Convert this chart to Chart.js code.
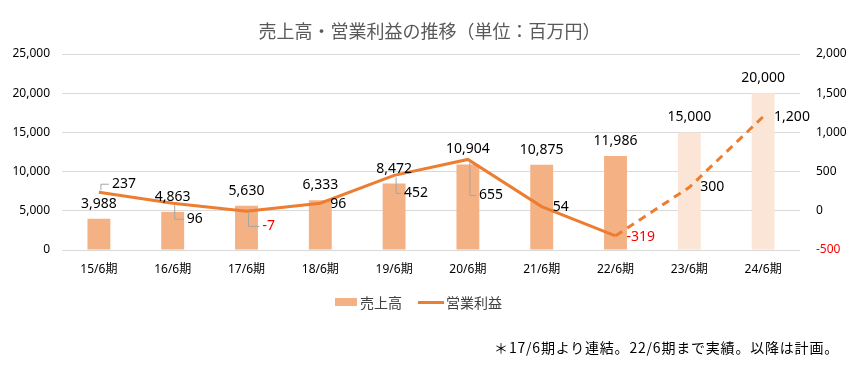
<!DOCTYPE html>
<html lang="ja">
<head>
<meta charset="utf-8">
<script src="https://cdn.jsdelivr.net/npm/chart.js@4/dist/chart.umd.min.js"></script>
<style>
  html, body { margin: 0; padding: 0; background: #fff; }
  #wrap { position: relative; width: 859px; height: 370px; font-family: "Noto Sans CJK JP", "Noto Sans", sans-serif; }
  #c { position: absolute; left: 0; top: 0; }
  .title { position: absolute; left: 0; width: 859px; top: 17px; text-align: center; font-size: 18px; color: #595959; line-height: 26px; }
  .legend { position: absolute; top: 292px; left: 335px; font-size: 14px; color: #404040; display: flex; align-items: center; line-height: 20px; }
  .legend .sw { display: inline-block; width: 22px; height: 8px; background: #F4B183; margin-right: 3px; }
  .legend .ln { display: inline-block; width: 26px; height: 3px; background: #ED7D31; margin: 0 2px 0 16px; }
  .note { position: absolute; right: 20px; top: 337px; font-size: 14px; letter-spacing: 0.8px; color: #000; line-height: 20px; }
</style>
</head>
<body>
<div id="wrap">
  <canvas id="c" width="859" height="370"></canvas>
  <div class="title">売上高・営業利益の推移（単位：百万円）</div>
  <div class="legend"><span class="sw"></span>売上高<span class="ln"></span>営業利益</div>
  <div class="note">＊17/6期より連結。22/6期まで実績。以降は計画。</div>
</div>
<script>
// --- data ---
const periods = ['15/6期', '16/6期', '17/6期', '18/6期', '19/6期', '20/6期', '21/6期', '22/6期', '23/6期', '24/6期'];
const sales = [3988, 4863, 5630, 6333, 8472, 10904, 10875, 11986, 15000, 20000];
const opProfit = [237, 96, -7, 96, 452, 655, 54, -319, 300, 1200];
const actualCount = 8; // through 22/6期, rest is plan
const salesTicks = [0, 5000, 10000, 15000, 20000, 25000];
const profitTicks = [-500, 0, 500, 1000, 1500, 2000];

// label placement for profit values: [dx, dy, leader]
const profitLabelPos = [
  [13, -8, 'up'], [14, 16, 'down'], [16, 15, 'down'], [10, 1, null], [10, 18, 'down'],
  [11, 36, 'down'], [11, 0, null], [11, 1, null], [11, 0, null], [11, 0, null],
];

const fmt = v => v.toLocaleString('en-US');
const FONT = '"Noto Sans", "Noto Sans CJK JP", sans-serif';

const labelPlugin = {
  id: 'valueLabels',
  afterDatasetsDraw(chart) {
    const ctx = chart.ctx;
    ctx.save();
    ctx.font = '14px ' + FONT;
    ctx.textBaseline = 'middle';
    // bar labels
    chart.getDatasetMeta(0).data.forEach((bar, i) => {
      ctx.fillStyle = '#000';
      ctx.textAlign = 'center';
      ctx.fillText(fmt(sales[i]), bar.x, bar.y - 15);
    });
    // line labels
    chart.getDatasetMeta(1).data.forEach((pt, i) => {
      const [dx, dy, leader] = profitLabelPos[i];
      const tx = pt.x + dx, ty = pt.y + dy;
      if (leader) {
        ctx.strokeStyle = '#A6A6A6';
        ctx.lineWidth = 1;
        ctx.beginPath();
        ctx.moveTo(pt.x + 2, pt.y + (leader === 'up' ? -2 : 2));
        ctx.lineTo(pt.x + 2, ty);
        ctx.lineTo(tx - 3, ty);
        ctx.stroke();
      }
      ctx.fillStyle = opProfit[i] < 0 ? '#FF0000' : '#000';
      ctx.textAlign = 'left';
      ctx.fillText(fmt(opProfit[i]), tx, ty);
    });
    ctx.restore();
  }
};

new Chart(document.getElementById('c'), {
  data: {
    labels: periods,
    datasets: [
      {
        type: 'bar',
        label: '売上高',
        data: sales,
        yAxisID: 'y',
        backgroundColor: ctx => ctx.dataIndex < actualCount ? '#F4B183' : '#FBE5D6',
        barPercentage: 0.62,
        categoryPercentage: 0.5,
        order: 2,
      },
      {
        type: 'line',
        label: '営業利益',
        data: opProfit,
        yAxisID: 'y1',
        borderColor: '#ED7D31',
        borderWidth: 3,
        pointRadius: 0,
        tension: 0,
        segment: {
          borderDash: ctx => ctx.p0DataIndex >= actualCount - 1 ? [8, 6] : undefined,
        },
        order: 1,
      },
    ],
  },
  options: {
    responsive: false,
    animation: false,
    layout: { padding: { top: 54, bottom: 90, left: 0, right: 0 } },
    plugins: { legend: { display: false }, tooltip: { enabled: false }, title: { display: false } },
    scales: {
      x: {
        grid: { display: false },
        border: { display: false },
        ticks: { color: '#000', font: { family: FONT, size: 12 }, padding: 4 },
        afterFit: s => { s.height = 30; },
      },
      y: {
        position: 'left',
        min: 0, max: 25000,
        afterBuildTicks: s => { s.ticks = salesTicks.map(v => ({ value: v })); },
        grid: { color: '#D9D9D9', drawTicks: false },
        border: { display: false },
        ticks: { color: '#000', font: { family: FONT, size: 12 }, padding: 12, callback: v => fmt(v) },
        afterFit: s => { s.width = 62; },
      },
      y1: {
        position: 'right',
        min: -500, max: 2000,
        afterBuildTicks: s => { s.ticks = profitTicks.map(v => ({ value: v })); },
        grid: { display: false },
        border: { display: false },
        ticks: {
          color: ctx => ctx.tick && ctx.tick.value < 0 ? '#FF0000' : '#000',
          font: { family: FONT, size: 12 }, padding: 8, callback: v => fmt(v),
        },
        afterFit: s => { s.width = 59; },
      },
    },
  },
  plugins: [labelPlugin],
});
</script>
</body>
</html>
